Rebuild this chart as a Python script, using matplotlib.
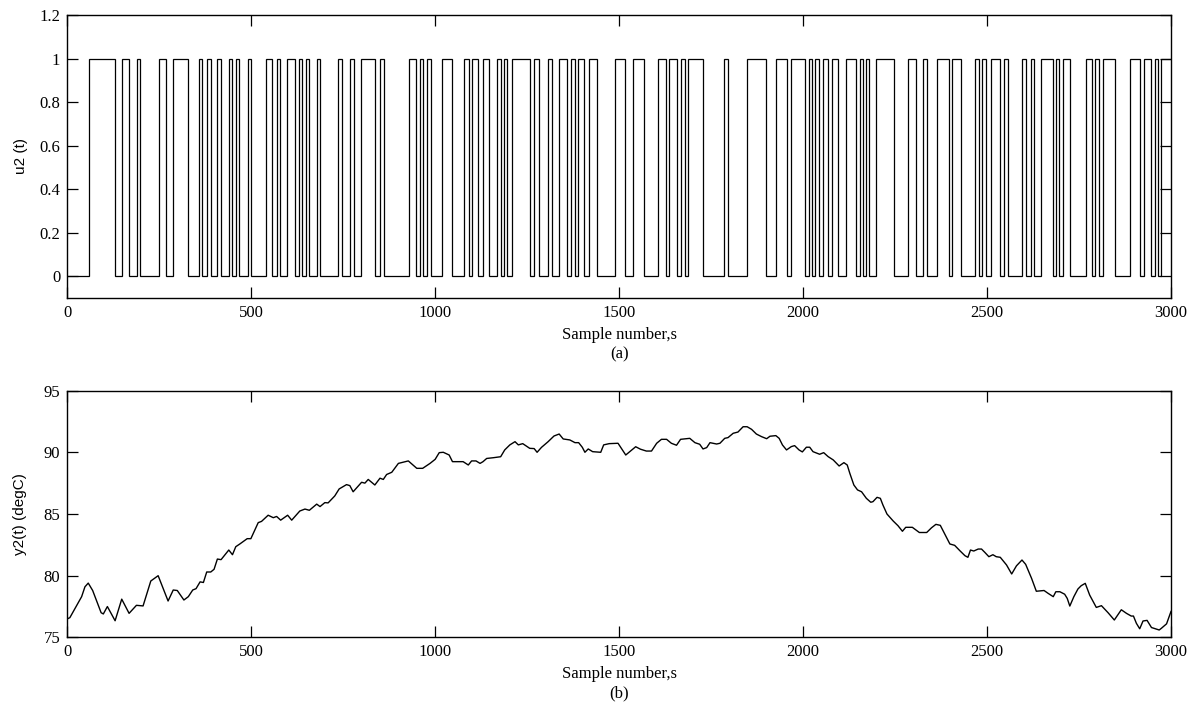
import matplotlib
matplotlib.use("Agg")
import matplotlib.pyplot as plt

# switching instants of u2(t) (samples); starts at 0 and toggles at each one
u2_switches = [58, 130, 148, 168, 189, 198, 248, 269, 288, 329, 359, 367, 380, 390,
               408, 417, 439, 448, 458, 467, 490, 500, 540, 556, 569, 579, 597, 618,
               630, 637, 649, 658, 678, 687, 737, 748, 769, 778, 799, 837, 849, 860,
               928, 948, 958, 967, 978, 989, 1019, 1046, 1079, 1091, 1099, 1117, 1130,
               1147, 1168, 1179, 1187, 1196, 1210, 1259, 1269, 1281, 1306, 1317, 1337,
               1359, 1369, 1379, 1387, 1404, 1417, 1439, 1489, 1516, 1538, 1568, 1607,
               1627, 1636, 1658, 1668, 1678, 1687, 1727, 1785, 1797, 1848, 1899, 1926,
               1955, 1968, 2005, 2016, 2024, 2033, 2043, 2053, 2068, 2079, 2095, 2118,
               2145, 2156, 2163, 2170, 2179, 2197, 2246, 2285, 2306, 2326, 2337, 2364,
               2397, 2406, 2428, 2467, 2478, 2487, 2496, 2512, 2534, 2545, 2558, 2596,
               2607, 2619, 2628, 2646, 2678, 2687, 2696, 2706, 2725, 2768, 2785, 2793,
               2804, 2815, 2847, 2888, 2915, 2927, 2947, 2956, 2966, 2972]
n_samples = 3000

# y2(t) temperature trace
y2_t = [0, 7, 39, 48, 57, 69, 92, 98, 109, 130, 148, 168, 188, 206, 227, 247, 274, 288,
        299, 317, 329, 341, 350, 361, 370, 379, 390, 399, 408, 418, 439, 449, 458, 469,
        489, 499, 519, 528, 546, 560, 569, 580, 599, 610, 632, 646, 658, 678, 687, 700,
        709, 727, 739, 759, 768, 777, 800, 809, 818, 836, 850, 859, 868, 882, 900, 927,
        950, 966, 986, 1000, 1011, 1022, 1038, 1047, 1076, 1090, 1099, 1111, 1122, 1130,
        1140, 1158, 1178, 1189, 1203, 1217, 1226, 1238, 1257, 1269, 1277, 1289, 1307,
        1323, 1337, 1348, 1366, 1380, 1390, 1400, 1407, 1416, 1428, 1450, 1458, 1473,
        1497, 1518, 1545, 1558, 1574, 1588, 1602, 1615, 1629, 1642, 1656, 1667, 1683,
        1692, 1706, 1719, 1728, 1738, 1747, 1765, 1774, 1787, 1796, 1810, 1823, 1837,
        1848, 1860, 1873, 1887, 1901, 1910, 1926, 1935, 1944, 1955, 1968, 1977, 1989,
        1998, 2009, 2018, 2027, 2045, 2056, 2068, 2082, 2098, 2111, 2120, 2127, 2138,
        2148, 2159, 2172, 2184, 2190, 2201, 2210, 2217, 2228, 2245, 2258, 2270, 2279,
        2297, 2316, 2336, 2349, 2361, 2373, 2399, 2412, 2426, 2440, 2448, 2455, 2464,
        2476, 2485, 2494, 2505, 2516, 2525, 2536, 2553, 2567, 2580, 2595, 2605, 2621,
        2634, 2655, 2666, 2680, 2687, 2698, 2711, 2718, 2725, 2736, 2747, 2756, 2767,
        2779, 2797, 2811, 2829, 2846, 2865, 2879, 2892, 2898, 2906, 2915, 2924, 2935,
        2947, 2968, 2974, 2988, 3000]
y2_v = [76.5, 76.6, 78.3, 79.1, 79.4, 78.8, 77.0, 76.9, 77.5, 76.35, 78.1, 76.95, 77.6,
        77.55, 79.57, 80.0, 77.95, 78.84, 78.8, 78.03, 78.3, 78.84, 78.95, 79.5, 79.45,
        80.3, 80.3, 80.52, 81.35, 81.3, 82.08, 81.7, 82.35, 82.57, 83.0, 83.0, 84.3, 84.4,
        84.9, 84.7, 84.8, 84.5, 84.9, 84.5, 85.24, 85.4, 85.3, 85.8, 85.6, 85.92, 85.9,
        86.46, 87.03, 87.38, 87.3, 86.8, 87.57, 87.5, 87.8, 87.35, 87.9, 87.8, 88.2, 88.38,
        89.1, 89.3, 88.7, 88.7, 89.1, 89.43, 89.97, 90.0, 89.78, 89.24, 89.24, 88.97, 89.3,
        89.3, 89.1, 89.24, 89.5, 89.56, 89.64, 90.19, 90.6, 90.86, 90.6, 90.7, 90.32, 90.3,
        90.0, 90.4, 90.86, 91.32, 91.48, 91.08, 91.0, 90.78, 90.78, 90.4, 90.0, 90.27,
        90.05, 90.0, 90.6, 90.7, 90.73, 89.78, 90.45, 90.25, 90.1, 90.1, 90.73, 91.05,
        91.05, 90.73, 90.57, 91.05, 91.1, 91.13, 90.78, 90.65, 90.27, 90.38, 90.78, 90.67,
        90.73, 91.13, 91.19, 91.54, 91.64, 92.07, 92.07, 91.86, 91.48, 91.27, 91.1, 91.3,
        91.35, 91.13, 90.59, 90.19, 90.46, 90.54, 90.19, 90.03, 90.41, 90.41, 90.05, 89.84,
        89.97, 89.65, 89.38, 88.89, 89.16, 88.97, 88.3, 87.35, 86.95, 86.8, 86.27, 85.95,
        86.0, 86.35, 86.27, 85.73, 85.0, 84.43, 84.05, 83.6, 83.92, 83.92, 83.5, 83.5,
        83.88, 84.16, 84.08, 82.57, 82.46, 82.03, 81.62, 81.49, 82.08, 82.0, 82.16, 82.16,
        81.89, 81.54, 81.7, 81.54, 81.49, 80.87, 80.14, 80.8, 81.27, 80.92, 79.79, 78.74,
        78.8, 78.57, 78.3, 78.7, 78.7, 78.5, 78.16, 77.54, 78.3, 78.92, 79.19, 79.38, 78.43,
        77.43, 77.57, 77.0, 76.41, 77.24, 76.95, 76.73, 76.73, 76.14, 75.7, 76.33, 76.38,
        75.8, 75.6, 75.74, 76.1, 77.1]

edges = [0] + u2_switches + [n_samples]
levels = [i % 2 for i in range(len(edges) - 1)]

serif = "Liberation Serif"
sans = "Liberation Sans"

fig = plt.figure(figsize=(11.95, 7.04), dpi=100)
ax1 = fig.add_axes([0.0563, 0.5767, 0.9236, 0.402])
ax2 = fig.add_axes([0.0563, 0.0946, 0.9236, 0.3506])

ax1.stairs(levels, edges, baseline=None, color="black", lw=0.9)
ax2.plot(y2_t, y2_v, color="black", lw=1.0)

ax1.set_xlim(0, 3000)
ax1.set_ylim(-0.1, 1.2)
ax1.set_yticks([0, 0.2, 0.4, 0.6, 0.8, 1.0, 1.2])
ax1.set_yticklabels(["0", "0.2", "0.4", "0.6", "0.8", "1", "1.2"])
ax1.set_ylabel("u2 (t)", family=sans, fontsize=11, labelpad=8)

ax2.set_xlim(0, 3000)
ax2.set_ylim(75, 95)
ax2.set_yticks([75, 80, 85, 90, 95])
ax2.set_ylabel("y2(t) (degC)", family=sans, fontsize=11, labelpad=12)

for ax, tag in [(ax1, "(a)"), (ax2, "(b)")]:
    ax.set_xticks(range(0, 3001, 500))
    ax.tick_params(direction="in", length=8, width=0.9, top=True, right=True,
                   labelsize=12, pad=5)
    for lab in ax.get_xticklabels() + ax.get_yticklabels():
        lab.set_family(serif)
    for sp in ax.spines.values():
        sp.set_linewidth(1.0)
    ax.annotate("Sample number,s", xy=(0.5, 0), xycoords="axes fraction",
                xytext=(0, -26.5), textcoords="offset points",
                ha="center", va="center", family=serif, fontsize=12)
    ax.annotate(tag, xy=(0.5, 0), xycoords="axes fraction",
                xytext=(0, -40.5), textcoords="offset points",
                ha="center", va="center", family=serif, fontsize=12)

fig.savefig("out.png", dpi=100)
